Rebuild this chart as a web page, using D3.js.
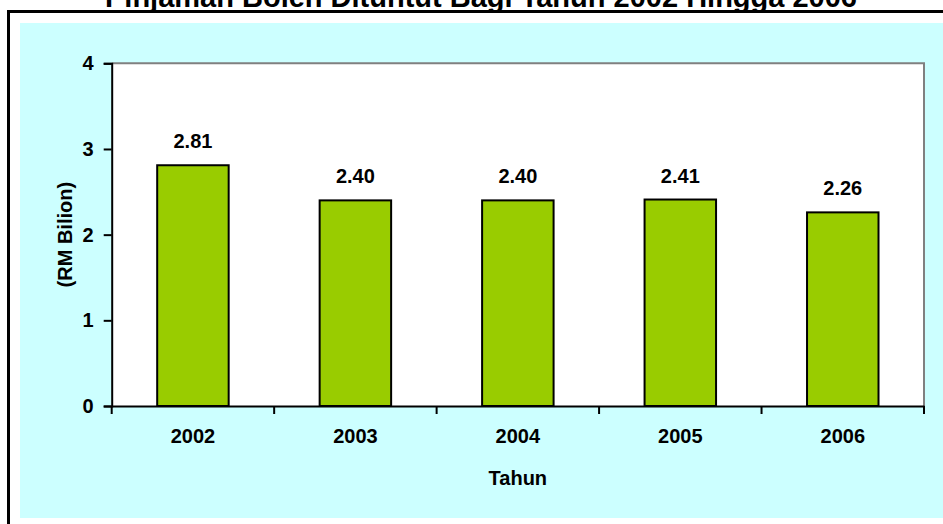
<!DOCTYPE html>
<meta charset="utf-8">
<head>
  <title>Pinjaman Boleh Dituntut</title>
</head>

<style>
  body { margin: 0; background: #fff; }
  text { font-family: "Liberation Sans", Arial, sans-serif; font-weight: bold; fill: #000; }
</style>

<body>

  <div id="my_dataviz"></div>

  <script src="https://d3js.org/d3.v7.min.js"></script>

  <script>

  // data
  var years = ["2002", "2003", "2004", "2005", "2006"];
  var values = [2.81, 2.40, 2.40, 2.41, 2.26];
  var yTicks = [0, 1, 2, 3, 4];
  var titleText = "Pinjaman Boleh Dituntut Bagi Tahun 2002 Hingga 2006";
  var xTitle = "Tahun";
  var yTitle = "(RM Bilion)";

  var W = 943, H = 524;
  var plot = {left: 111.7, right: 924, top: 63.3, bottom: 406};

  var svg = d3.select("#my_dataviz")
    .append("svg")
      .attr("width", W)
      .attr("height", H);

  // outer frame + cyan chart area
  svg.append("rect")
    .attr("x", 8.5).attr("y", 11.5)
    .attr("width", W + 20).attr("height", H + 20)
    .attr("fill", "#fff")
    .attr("stroke", "#000")
    .attr("stroke-width", 3);
  svg.append("rect")
    .attr("x", 20).attr("y", 23)
    .attr("width", W - 20).attr("height", 518 - 23)
    .attr("fill", "#CCFFFF");

  // title (partly cut at the top, as in the original)
  svg.append("text")
    .attr("x", 481).attr("y", 7)
    .attr("text-anchor", "middle")
    .style("font-size", "29px")
    .text(titleText);

  // scales
  var x = d3.scaleBand()
    .domain(years)
    .range([plot.left, plot.right])
    .paddingInner(0.56)
    .paddingOuter(0.28);

  var xEdges = d3.scalePoint()
    .domain(d3.range(years.length + 1))
    .range([plot.left, plot.right]);

  var y = d3.scaleLinear()
    .domain([0, 4])
    .range([plot.bottom, plot.top]);

  // plot area
  svg.append("rect")
    .attr("x", plot.left).attr("y", plot.top)
    .attr("width", plot.right - plot.left)
    .attr("height", plot.bottom - plot.top)
    .attr("fill", "#fff");
  // grey border top / right
  svg.append("path")
    .attr("d", "M" + plot.left + "," + plot.top + "H" + plot.right + "V" + plot.bottom)
    .attr("fill", "none")
    .attr("stroke", "#808080")
    .attr("stroke-width", 2);

  // bars
  svg.append("g")
    .selectAll("rect")
    .data(values)
    .enter().append("rect")
      .attr("x", function(d, i) { return x(years[i]); })
      .attr("y", function(d) { return y(d); })
      .attr("width", x.bandwidth())
      .attr("height", function(d) { return y(0) - y(d); })
      .attr("fill", "#99CC00")
      .attr("stroke", "#000")
      .attr("stroke-width", 2);

  // value labels
  svg.append("g")
    .selectAll("text")
    .data(values)
    .enter().append("text")
      .attr("x", function(d, i) { return x(years[i]) + x.bandwidth() / 2; })
      .attr("y", function(d) { return y(d) - 17; })
      .attr("text-anchor", "middle")
      .style("font-size", "20px")
      .text(function(d) { return d.toFixed(2); });

  // y axis
  var yAxis = svg.append("g")
    .attr("transform", "translate(" + plot.left + ",0)")
    .call(d3.axisLeft(y).tickValues(yTicks).tickSize(8).tickPadding(10).tickFormat(d3.format("d")));
  yAxis.select(".domain").attr("stroke", "#000").attr("stroke-width", 2);
  yAxis.selectAll(".tick line").attr("stroke", "#000").attr("stroke-width", 2);
  yAxis.selectAll(".tick text").style("font-size", "20px").attr("font-family", null);

  // x axis : labels centred on bars, ticks on category edges
  var xAxis = svg.append("g")
    .attr("transform", "translate(0," + plot.bottom + ")")
    .call(d3.axisBottom(x).tickSize(0).tickPadding(23).tickSizeOuter(0));
  xAxis.select(".domain").attr("stroke", "#000").attr("stroke-width", 2);
  xAxis.selectAll(".tick text").style("font-size", "20px").attr("font-family", null);

  svg.append("g")
    .selectAll("line")
    .data(xEdges.domain())
    .enter().append("line")
      .attr("x1", function(d) { return xEdges(d); })
      .attr("x2", function(d) { return xEdges(d); })
      .attr("y1", plot.bottom)
      .attr("y2", plot.bottom + 8)
      .attr("stroke", "#000")
      .attr("stroke-width", 2);

  // axis titles
  svg.append("text")
    .attr("x", (plot.left + plot.right) / 2)
    .attr("y", 485)
    .attr("text-anchor", "middle")
    .style("font-size", "20px")
    .text(xTitle);

  svg.append("text")
    .attr("transform", "translate(72," + (plot.top + plot.bottom) / 2 + ") rotate(-90)")
    .attr("text-anchor", "middle")
    .style("font-size", "20px")
    .text(yTitle);

  </script>
</body>
</html>
